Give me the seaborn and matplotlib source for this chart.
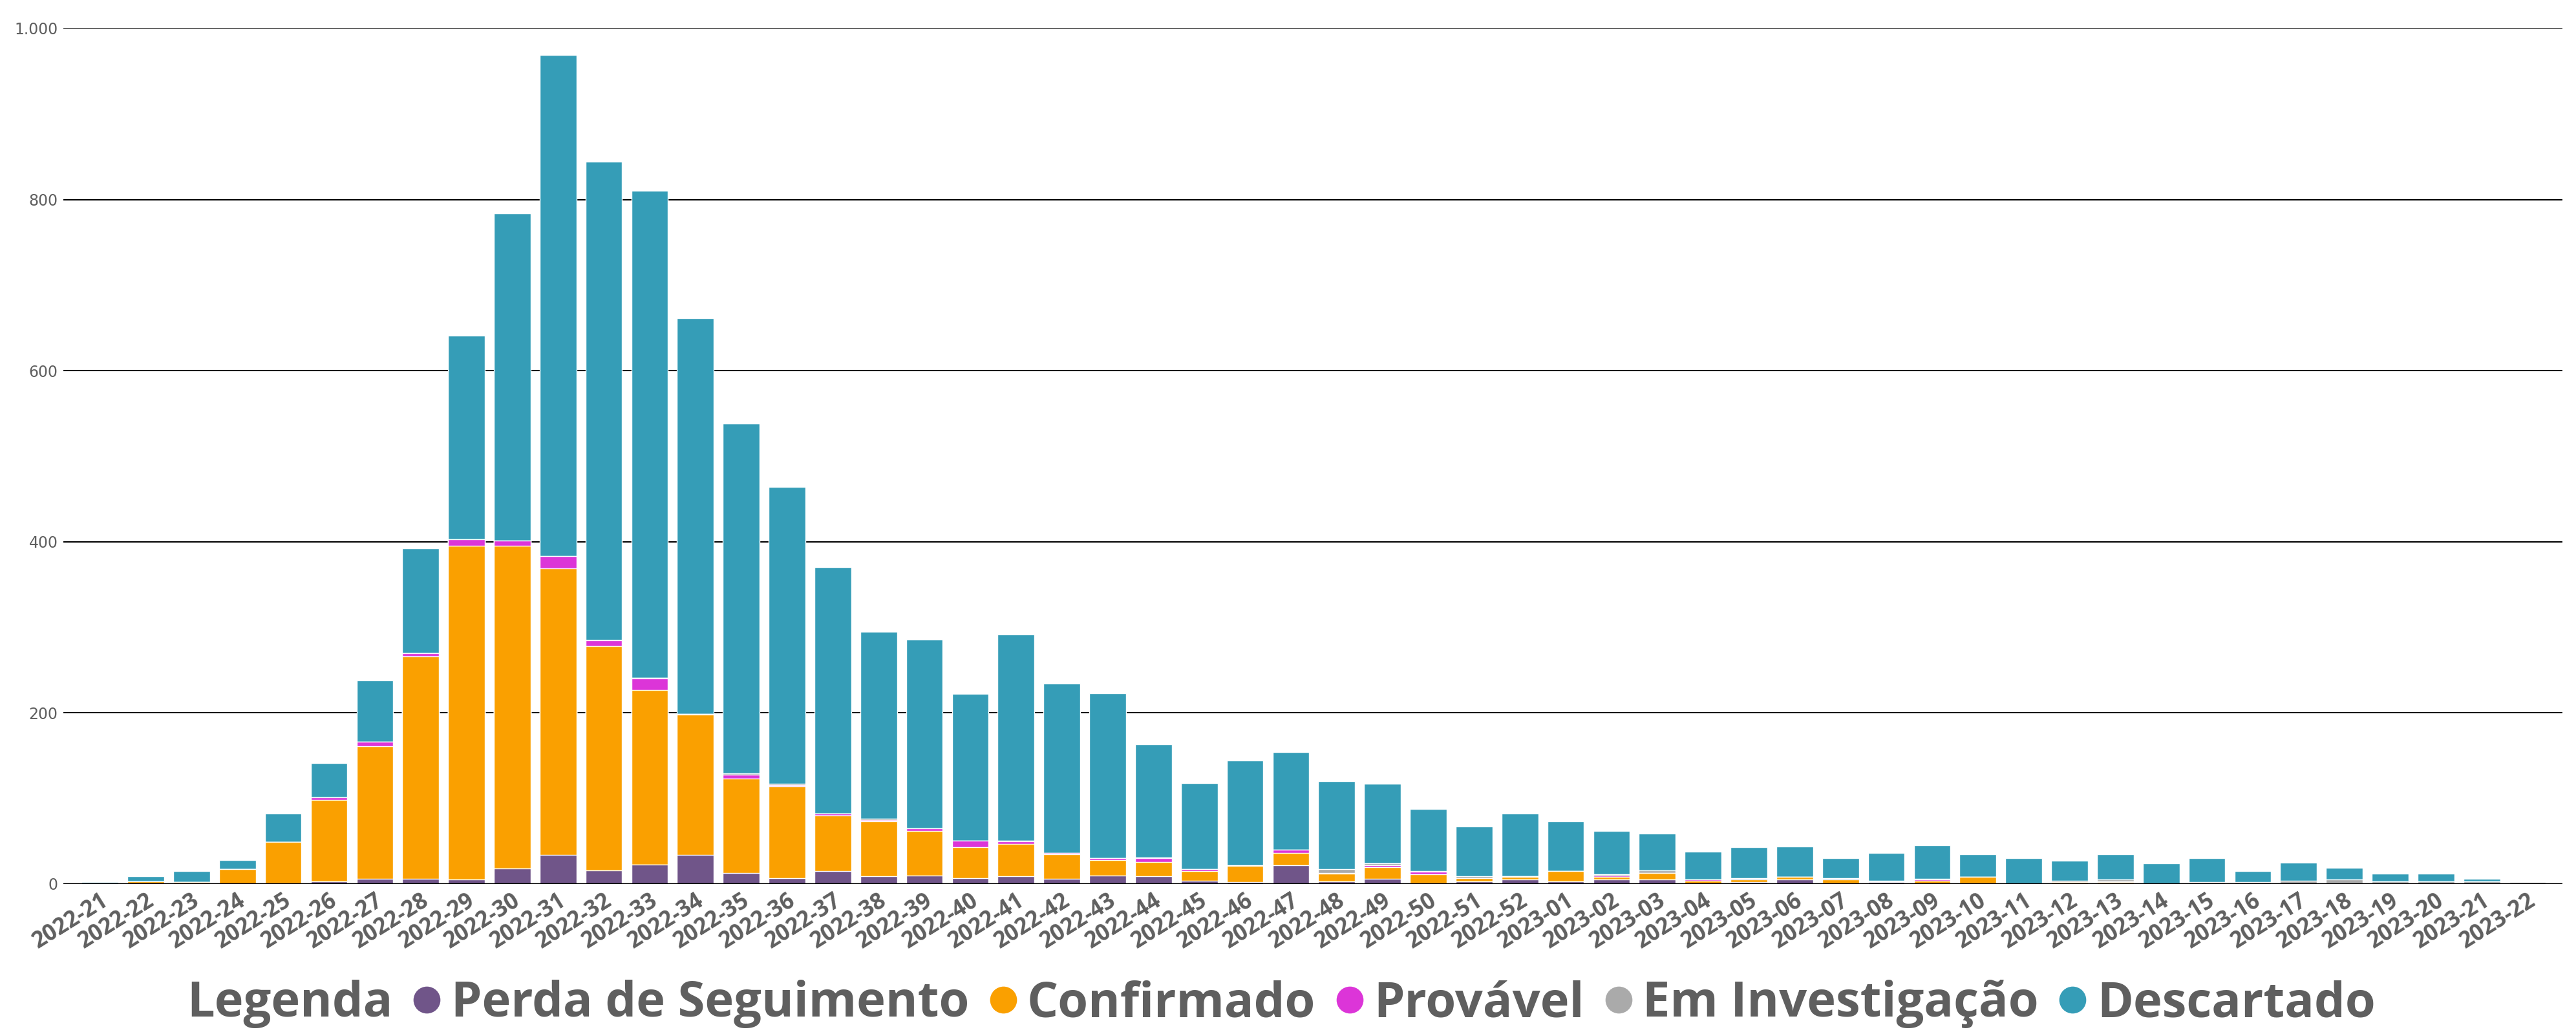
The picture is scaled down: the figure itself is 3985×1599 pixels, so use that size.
# Goal: weekly case counts by classification, stacked bars per epidemiological week

import seaborn as sns
import matplotlib.pyplot as plt
import matplotlib.transforms as mtransforms
from matplotlib.lines import Line2D
import pandas as pd

# Epidemiological weeks
weeks = [f"2022-{w}" for w in range(21, 53)] + [f"2023-{w:02d}" for w in range(1, 23)]

# Values per classification
perda = [0, 0, 0, 0, 1, 3, 6, 6, 5, 18, 34, 16, 23, 34, 13, 7, 15, 9, 10, 7,
         9, 6, 10, 9, 4, 2, 22, 3, 6, 1, 3, 5, 3, 5, 5, 0, 2, 5, 1, 2,
         1, 1, 0, 1, 1, 0, 0, 0, 0, 0, 0, 0, 0, 0]
confirmado = [0, 3, 2, 17, 48, 95, 155, 260, 390, 377, 335, 262, 204, 164, 110, 107, 65, 64, 52, 36,
              38, 29, 18, 17, 11, 19, 14, 9, 14, 10, 4, 3, 12, 3, 8, 4, 3, 3, 4, 1,
              3, 7, 0, 1, 1, 0, 0, 0, 0, 1, 1, 0, 0, 0]
provavel = [0, 0, 0, 0, 0, 3, 5, 4, 8, 6, 14, 7, 13, 1, 5, 2, 2, 2, 3, 8,
            3, 1, 2, 4, 2, 0, 4, 1, 2, 3, 0, 1, 0, 2, 0, 1, 0, 0, 0, 0,
            1, 0, 0, 0, 1, 0, 0, 0, 0, 0, 0, 0, 0, 0]
investigacao = [0, 0, 0, 0, 0, 0, 0, 0, 0, 0, 0, 0, 1, 0, 1, 1, 0, 1, 0, 0,
                1, 0, 0, 1, 0, 1, 0, 4, 2, 1, 2, 0, 0, 1, 3, 0, 2, 0, 2, 1,
                1, 0, 1, 2, 2, 1, 2, 2, 4, 4, 2, 3, 3, 2]
descartado = [2, 6, 13, 11, 33, 40, 72, 122, 238, 383, 586, 559, 569, 462, 409, 347, 288, 219, 221, 171,
              241, 198, 193, 132, 101, 122, 114, 103, 93, 73, 58, 73, 58, 51, 43, 33, 36, 36, 23, 32,
              39, 27, 29, 23, 30, 23, 28, 13, 21, 14, 9, 9, 3, 0]

categories = ["Perda de Seguimento", "Confirmado", "Provável", "Em Investigação", "Descartado"]
colors = ["#705589", "#FAA000", "#DC35D8", "#AAAAAA", "#359DB7"]
ytick_values = [0, 200, 400, 600, 800, 1000]
ytick_labels = ["0", "200", "400", "600", "800", "1.000"]

df = pd.DataFrame({"week": weeks, categories[0]: perda, categories[1]: confirmado,
                   categories[2]: provavel, categories[3]: investigacao, categories[4]: descartado})
# cumulative heights so the stack can be drawn from the top layer down
cum = df[categories].cumsum(axis=1)
cum["week"] = weeks

sns.set_style("white")
plt.rcParams["font.family"] = ["Open Sans", "DejaVu Sans"]
text_grey = "#5F5F5F"

fig = plt.figure(figsize=(39.85, 15.99), dpi=100)
ax = fig.add_axes([0.0246, 0.1451, 0.9701, 0.8274])

# gridlines behind the bars
for v in ytick_values[1:]:
    ax.axhline(v, color="black", linewidth=1.5, zorder=0)

for cat, col in zip(categories[::-1], colors[::-1]):
    sns.barplot(data=cum, x="week", y=cat, color=col, saturation=1, width=0.8,
                ax=ax, zorder=2)

ax.axhline(0, color="black", linewidth=2.4, zorder=3)

ax.set_ylim(0, 1000)
ax.set_xlim(-0.8, 53.76)
ax.set_yticks(ytick_values)
ax.set_yticklabels(ytick_labels, fontsize=17, color=text_grey,
                   family=["Liberation Sans Narrow", "DejaVu Sans"])
ax.set_xticks(range(len(weeks)))
ax.set_xticklabels(weeks, rotation=32, ha="right", rotation_mode="anchor",
                   fontsize=25, fontweight="bold", color=text_grey)
shift = mtransforms.ScaledTranslation(-0.12, 0, fig.dpi_scale_trans)
for lbl in ax.get_xticklabels():
    lbl.set_transform(lbl.get_transform() + shift)
ax.tick_params(axis="both", length=0, pad=6)
ax.set_xlabel("")
ax.set_ylabel("")
sns.despine(ax=ax, left=True, bottom=True)

# Legend at the bottom
handles = [Line2D([], [], linestyle="none")]
handles += [Line2D([], [], linestyle="none", marker="o", markersize=30,
                   markerfacecolor=c, markeredgecolor="none") for c in colors]
labels = ["Legenda"] + categories
fig.legend(handles, labels, loc="center", bbox_to_anchor=(0.490, 0.029), ncol=6,
           frameon=False, handlelength=0.55, handletextpad=0.22, columnspacing=0.42,
           prop={"weight": "bold", "size": 54.5}, labelcolor=text_grey)

fig.savefig("out.png", dpi=100)
